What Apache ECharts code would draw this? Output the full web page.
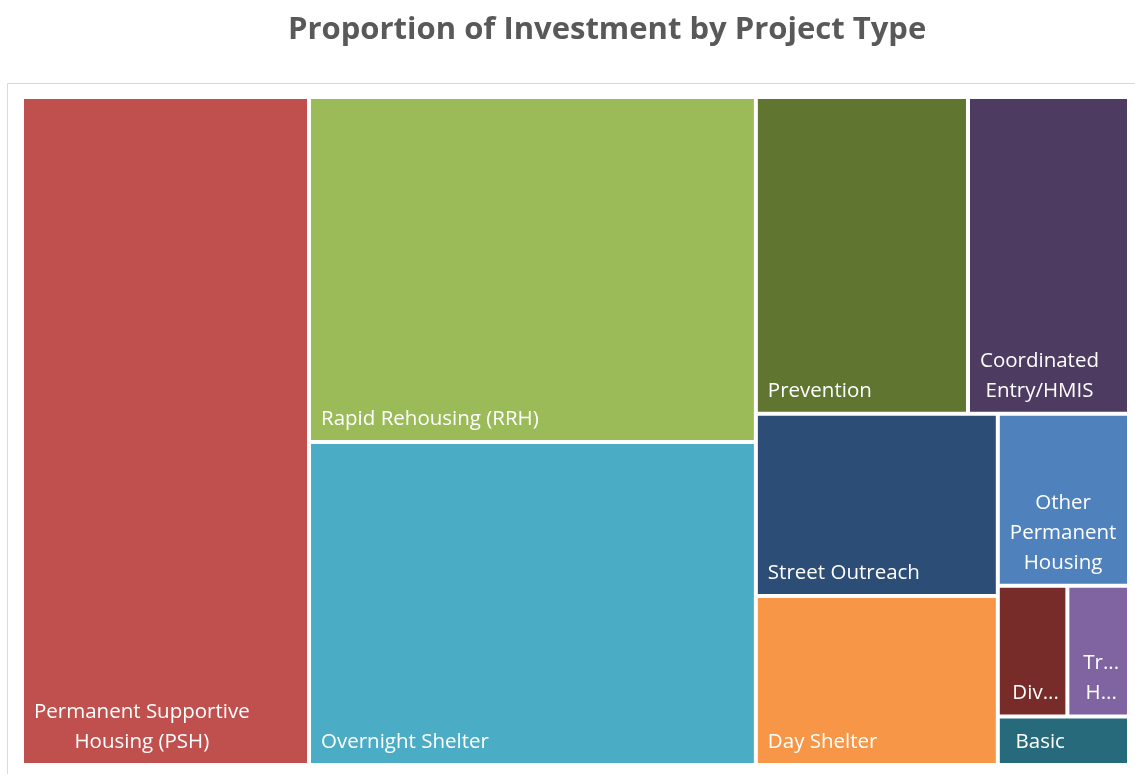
<!DOCTYPE html>
<html>
<head>
<meta charset="utf-8">
<title>Proportion of Investment by Project Type</title>
<script src="https://cdn.jsdelivr.net/npm/echarts@6/dist/echarts.min.js"></script>
<style>
  html, body { margin: 0; padding: 0; background: #fff; }
  #chart { width: 1135px; height: 774px; }
</style>
</head>
<body>
<div id="chart"></div>
<script>
// project types (line breaks as shown in the tiles)
var projectTypes = [
	'Permanent Supportive\nHousing (PSH)',
	'Rapid Rehousing (RRH)',
	'Overnight Shelter',
	'Prevention',
	'Coordinated\nEntry/HMIS',
	'Street Outreach',
	'Day Shelter',
	'Other\nPermanent\nHousing',
	'Diversion',
	'Transitional\nHousing',
	'Basic\nNeeds'
];
// share of total investment, %
var shares = [25.93, 20.85, 19.52, 9.09, 6.90, 5.96, 5.53, 3.05, 1.23, 1.09, 0.86];
var tileColors = ['#C0504D', '#9BBB59', '#4BACC6', '#5F7530', '#4D3B62', '#2C4D75',
	'#F79646', '#4F81BD', '#772C2A', '#8064A2', '#276A7C'];
// block each tile sits in, so the squarify result keeps the Excel arrangement
var blockOf = ['a', 'b', 'b', 'c', 'c', 'c', 'c', 'c', 'c/d', 'c/d', 'c'];

var LABEL_PAD = [0, 4, 6, 10];		// top right bottom left
var LABEL_FONT = '20.5px "Open Sans"';

function buildTree() {
	var root = { children: [] };
	for (var i = 0; i < projectTypes.length; i++) {
		var node = root;
		blockOf[i].split('/').forEach(function (key) {
			var next = node.children.filter(function (c) { return c.key === key; })[0];
			if (!next) {
				next = { key: key, name: 'block-' + key, children: [] };
				node.children.push(next);
			}
			node = next;
		});
		node.children.push({
			name: projectTypes[i],
			value: shares[i],
			itemStyle: { color: tileColors[i] }
		});
	}
	return root.children;
}

// multi-line labels: lines centred on each other, block kept at bottom-left
var measureCtx = document.createElement('canvas').getContext('2d');
measureCtx.font = LABEL_FONT;
function centerLines(params) {
	var r = params.rect;
	var avail = r.width - LABEL_PAD[1] - LABEL_PAD[3];
	var w = 0;
	String(params.text || '').split('\n').forEach(function (line) {
		w = Math.max(w, Math.min(measureCtx.measureText(line).width, avail));
	});
	return {
		x: r.x + LABEL_PAD[3] + w / 2 - (LABEL_PAD[3] - LABEL_PAD[1]) / 2,
		y: r.y + r.height,
		align: 'center',
		verticalAlign: 'bottom'
	};
}

var myChart = echarts.init(document.getElementById('chart'));
var options = {
	animation: false,
	title: {
		text: 'Proportion of Investment by Project Type',
		left: 283,
		top: 10,
		textStyle: {
			fontFamily: 'Open Sans',
			fontWeight: 'bold',
			fontSize: 31,
			color: '#595959'
		}
	},
	graphic: [{
		type: 'rect',
		silent: true,
		shape: { x: 7.5, y: 83.5, width: 1140, height: 720 },
		style: { fill: 'none', stroke: '#d9d9d9', lineWidth: 1 }
	}],
	series: [{
		type: 'treemap',
		left: 24,
		top: 99,
		width: 1103,
		height: 664,
		sort: false,
		squareRatio: 1,
		roam: false,
		nodeClick: false,
		breadcrumb: { show: false },
		itemStyle: {
			borderWidth: 0,
			gapWidth: 4,
			borderColor: '#fff'
		},
		label: {
			show: true,
			position: 'insideBottomLeft',
			distance: 0,
			padding: LABEL_PAD,
			color: '#fff',
			fontFamily: 'Open Sans',
			fontSize: 20.5,
			lineHeight: 30,
			overflow: 'truncate',
			ellipsis: '...'
		},
		upperLabel: { show: false },
		labelLayout: centerLines,
		data: buildTree()
	}]
};
myChart.setOption(options);
</script>
</body>
</html>
